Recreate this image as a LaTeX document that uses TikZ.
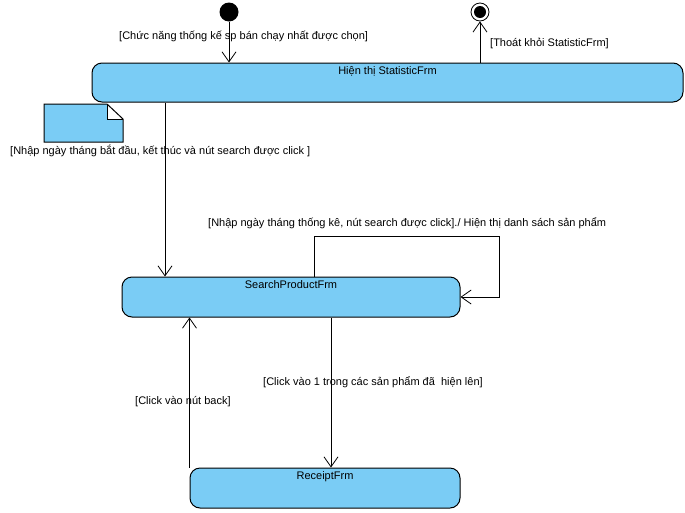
\documentclass[tikz,border=0pt]{standalone}
\usepackage{fontspec}
\setmainfont{Liberation Sans}
\usetikzlibrary{arrows.meta, positioning}
\definecolor{stateColor}{RGB}{122,204,245}
\tikzset{stateBox/.style={draw, fill=stateColor, line width=1pt, rounded corners=10pt, inner sep=0pt}}
\tikzset{stateText/.style={anchor=north, inner sep=3.5pt, font=\fontsize{11}{13}\selectfont}}
\tikzset{guard/.style={anchor=west, inner sep=0pt, font=\fontsize{11}{13}\selectfont}}
\tikzstyle{transition} = [-{Straight Barb[length=10pt, width=14pt]}, line width=0.8pt]

\begin{document}
\begin{tikzpicture}[x=1pt, y=-1pt]
	\useasboundingbox (0,0) rectangle (685,512);
	% Nodes
	\node (initial) [circle, fill, minimum size=19pt, inner sep=0pt] at (229,12) {};
	\node (final) [circle, draw, line width=0.8pt, minimum size=18pt, inner sep=0pt] at (480,12) {};
	\fill (final.center) circle (6pt);

	\node (statistic) [stateBox, minimum width=591pt, minimum height=39pt, label={[stateText]north:Hiện thị StatisticFrm}] at (387.5,82.5) {};
	\node (search) [stateBox, minimum width=338pt, minimum height=40pt, label={[stateText]north:SearchProductFrm}] at (291,297) {};
	\node (receipt) [stateBox, minimum width=270pt, minimum height=40pt, label={[stateText]north:ReceiptFrm}] at (325,488) {};

	% note
	\fill [stateColor] (44,104) -- (107,104) -- (107,119) -- (123,119) -- (123,142) -- (44,142) -- cycle;
	\draw [line width=1pt] (44,104) -- (107,104) -- (123,119) -- (123,142) -- (44,142) -- cycle;
	\draw [line width=0.8pt] (107,104) -- (107,119) -- (123,119);

	% Guards
	\node (guardStart) [guard] at (119,36.5) {[Chức năng thống kế sp bán chạy nhất được chọn]};
	\node (guardExit) [guard] at (490,43) {[Thoát khỏi StatisticFrm]};
	\node (guardSearch) [guard] at (10,151) {[Nhập ngày tháng bắt đầu, kết thúc và nút search được click ]};
	\node (guardLoop) [guard] at (208,223.5) {[Nhập ngày tháng thống kê, nút search được click]./ Hiện thị danh sách sản phẩm};
	\node (guardReceipt) [guard] at (263,382) {[Click vào 1 trong các sản phẩm đã~~hiện lên]};
	\node (guardBack) [guard] at (135,401.5) {[Click vào nút back]};

	% Connectors
	\draw [transition] (initial) -- (statistic.north -| initial);
	\draw [transition] (statistic.north -| final) -- (final);
	\draw [transition] (statistic.south -| 165,0) -- (search.north -| 165,0);
	\draw [transition] (search.north -| 314,0) |- (499,236.5) |- (search.east);
	\draw [transition] (search.south -| 331,0) -- (receipt.north -| 331,0);
	\draw [transition] (receipt.north west) -- (search.south -| receipt.north west);
\end{tikzpicture}
\end{document}
